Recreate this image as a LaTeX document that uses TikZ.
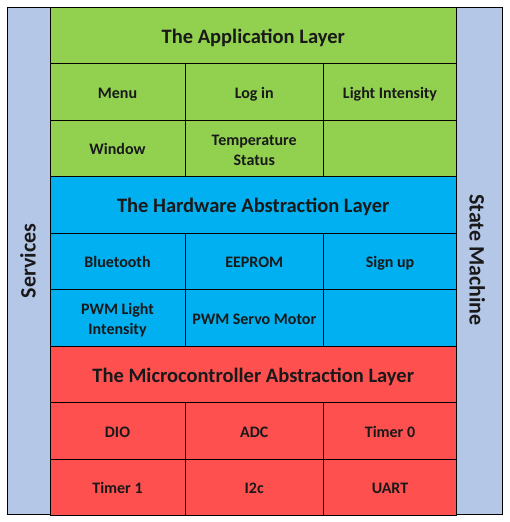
\documentclass[tikz,border=0pt]{standalone}
\usepackage{fontspec}
\setmainfont{Carlito}
\definecolor{appgreen}{HTML}{92D050}
\definecolor{hwblue}{HTML}{00B0F0}
\definecolor{mcred}{HTML}{FF5050}
\definecolor{sideblue}{HTML}{B4C7E7}
\begin{document}
\begin{tikzpicture}[x=1pt,y=-1pt,
  box/.style={draw=black,line width=0.9pt,inner sep=0pt,outer sep=0pt,
    minimum height=56.5pt,align=center,text=black!90},
  cell/.style={box,minimum width=#1,
    font=\fontsize{16}{19.5}\selectfont\bfseries,text height=13pt,text depth=0pt},
  twoline/.style={inner sep=0pt,align=center,text=black!90,
    font=\fontsize{16}{20}\selectfont\bfseries,yshift=-2.5pt},
  title/.style={box,minimum width=406.5pt,
    font=\fontsize{20.5}{24}\selectfont\bfseries,text height=16pt,text depth=0pt},
  side/.style={draw=black,line width=0.9pt,fill=sideblue,inner sep=0pt,outer sep=0pt,
    minimum height=507.5pt},
  sidetext/.style={inner sep=0pt,font=\fontsize{22}{26}\selectfont\bfseries,
    text=black!90,text height=14pt,text depth=0pt}]
\useasboundingbox (0,0) rectangle (510,522);
% side columns
\node[side,minimum width=43pt] (svc) at (28.5,260.75) {};
\node[sidetext,rotate=90] (svct) at (28.7,261) {Services};
\node[side,minimum width=45.5pt] (sm) at (479.25,260.75) {};
\node[sidetext,rotate=-90] (smt) at (476.5,260) {State Machine};
% application layer
\node[title,fill=appgreen] (app) at (253.25,35.25) {The Application Layer};
\node[cell=135pt,fill=appgreen] (menu) at (117.5,91.75) {Menu};
\node[cell=138.5pt,fill=appgreen] (login) at (254.25,91.75) {Log in};
\node[cell=133pt,fill=appgreen] (light) at (390,91.75) {Light Intensity};
\node[cell=135pt,fill=appgreen] (win) at (117.5,148.25) {Window};
\node[cell=138.5pt,fill=appgreen] (temp) at (254.25,148.25) {};
\node[twoline] (tempt) at (temp.center) {Temperature\\Status};
\node[cell=133pt,fill=appgreen] (app9) at (390,148.25) {};
% hardware abstraction layer
\node[title,fill=hwblue] (hal) at (253.25,204.75) {The Hardware Abstraction Layer};
\node[cell=135pt,fill=hwblue] (bt) at (117.5,261.25) {Bluetooth};
\node[cell=138.5pt,fill=hwblue] (eep) at (254.25,261.25) {EEPROM};
\node[cell=133pt,fill=hwblue] (sign) at (390,261.25) {Sign up};
\node[cell=135pt,fill=hwblue] (pwml) at (117.5,317.75) {};
\node[twoline] (pwmlt) at (pwml.center) {PWM Light\\Intensity};
\node[cell=138.5pt,fill=hwblue] (pwms) at (254.25,317.75) {PWM Servo Motor};
\node[cell=133pt,fill=hwblue] (hal9) at (390,317.75) {};
% microcontroller abstraction layer
\node[title,fill=mcred] (mcal) at (253.25,374.25) {The Microcontroller Abstraction Layer};
\node[cell=135pt,fill=mcred] (dio) at (117.5,430.75) {DIO};
\node[cell=138.5pt,fill=mcred] (adc) at (254.25,430.75) {ADC};
\node[cell=133pt,fill=mcred] (t0) at (390,430.75) {Timer 0};
\node[cell=135pt,fill=mcred] (t1) at (117.5,487.25) {Timer 1};
\node[cell=138.5pt,fill=mcred] (i2c) at (254.25,487.25) {I2c};
\node[cell=133pt,fill=mcred] (uart) at (390,487.25) {UART};
\end{tikzpicture}
\end{document}
